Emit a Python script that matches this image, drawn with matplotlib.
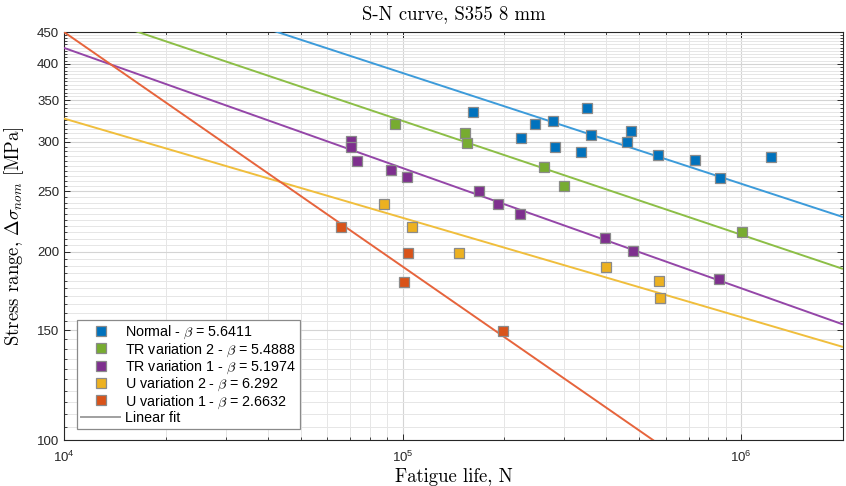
import numpy as np
import matplotlib
matplotlib.use('Agg')
import matplotlib.pyplot as plt
from matplotlib.font_manager import FontProperties
from matplotlib.ticker import FixedLocator, FixedFormatter, NullFormatter
from matplotlib.lines import Line2D

plt.rcParams['mathtext.fontset'] = 'custom'
plt.rcParams['mathtext.rm'] = 'Liberation Sans'
plt.rcParams['mathtext.it'] = 'Liberation Sans:italic'
plt.rcParams['font.family'] = ['Liberation Sans', 'DejaVu Sans']

# ---------------- data ----------------
series_names = ['Normal', 'TR variation 2', 'TR variation 1', 'U variation 2', 'U variation 1']
betas = [5.6411, 5.4888, 5.1974, 6.292, 2.6632]
beta_labels = ['5.6411', '5.4888', '5.1974', '6.292', '2.6632']
# fitted stress range at N = 1e4 for each linear fit (log-log)
fit_S_at_1e4 = [581.9, 493.3, 424.4, 327.1, 450.0]

normal_N = [1.62e5, 2.46e5, 2.78e5, 2.24e5, 2.82e5, 3.37e5, 3.51e5, 3.61e5,
            4.73e5, 4.60e5, 5.69e5, 7.31e5, 8.67e5, 1.226e6]
normal_S = [335, 320, 324, 305, 294, 289, 340, 308, 312, 300, 286, 281, 263, 284]

tr2_N = [9.5e4, 1.53e5, 1.55e5, 2.62e5, 3.0e5, 1.007e6]
tr2_S = [320, 310, 299, 274, 255, 215]

tr1_N = [7.04e4, 7.04e4, 7.34e4, 9.25e4, 1.03e5, 1.68e5, 1.915e5, 2.22e5,
         3.96e5, 4.80e5, 8.61e5]
tr1_S = [301, 294, 280, 271, 264, 250, 239, 230, 210.5, 200.6, 181]

u2_N = [8.82e4, 1.067e5, 1.469e5, 3.99e5, 5.72e5, 5.76e5]
u2_S = [239, 219, 199, 189, 180, 169]

u1_N = [6.58e4, 1.038e5, 1.01e5, 1.98e5]
u1_S = [219, 199, 179, 149.5]

x_ticks = [1e4, 1e5, 1e6]
x_ticklabels = [r'$10^4$', r'$10^5$', r'$10^6$']
y_ticks = [100, 150, 200, 250, 300, 350, 400, 450]

# ---------------- style ----------------
marker_colors = ['#0072BD', '#77AC30', '#7E2F8E', '#EDB120', '#D95319']
line_colors = ['#3C9BDA', '#8CBE46', '#9446A8', '#F0BE3C', '#E6643C']

series_N = [normal_N, tr2_N, tr1_N, u2_N, u1_N]
series_S = [normal_S, tr2_S, tr1_S, u2_S, u1_S]

fig = plt.figure(figsize=(8.46, 4.86), dpi=100)
ax = fig.add_axes([64/846, 46/486, 779/846, 408/486])
ax.set_xscale('log')
ax.set_yscale('log')
ax.set_xlim(1e4, 2e6)
ax.set_ylim(100, 450)

Nfit = np.logspace(4, np.log10(2e6), 200)
for i in range(5):
    Sfit = fit_S_at_1e4[i] * (Nfit / 1e4) ** (-1.0 / betas[i])
    ax.plot(Nfit, Sfit, color=line_colors[i], lw=1.4, zorder=3, solid_capstyle='butt')

for i in range(5):
    ax.plot(series_N[i], series_S[i], ls='none', marker='s', ms=7,
            mfc=marker_colors[i], mec='#8a8a8a', mew=0.9, zorder=4)

# ticks
ax.xaxis.set_major_locator(FixedLocator(x_ticks))
ax.xaxis.set_major_formatter(FixedFormatter(x_ticklabels))
xminor = [k * 10**d for d in range(4, 7) for k in range(2, 10) if k * 10**d <= 2e6]
ax.xaxis.set_minor_locator(FixedLocator(xminor))
ax.xaxis.set_minor_formatter(NullFormatter())
ax.yaxis.set_major_locator(FixedLocator(y_ticks))
ax.yaxis.set_major_formatter(FixedFormatter([str(v) for v in y_ticks]))
yminor = [v for v in range(105, 450, 5) if v % 50 != 0]
ax.yaxis.set_minor_locator(FixedLocator(yminor))
ax.yaxis.set_minor_formatter(NullFormatter())

ax.tick_params(which='both', direction='in', top=True, right=True,
               colors='#262626', labelsize=9.5)
ax.tick_params(which='major', length=4, width=0.7)
ax.tick_params(which='minor', length=2.5, width=0.6)
ax.tick_params(axis='x', pad=7)
for sp in ax.spines.values():
    sp.set_color('#262626')
    sp.set_linewidth(0.8)

ax.grid(which='major', color='#d4d4d4', lw=0.8, zorder=0)
ax.grid(which='minor', color='#e6e6e6', lw=0.7, zorder=0)
ax.set_axisbelow(True)

# labels
ax.set_title('S-N curve, S355 8 mm', fontfamily='cmr10', fontsize=13.5, pad=9)
ax.set_xlabel('Fatigue life, N', fontfamily='cmr10', fontsize=13.5, labelpad=2)
ax.set_ylabel(r'Stress range, $\Delta\sigma_{nom}$ [MPa]', fontfamily='cmr10',
              fontsize=13.5, math_fontfamily='cm', labelpad=8)

# legend
handles = []
labels = []
for i in range(5):
    handles.append(Line2D([], [], ls='none', marker='s', ms=7,
                          mfc=marker_colors[i], mec='#8a8a8a', mew=0.9))
    labels.append(series_names[i] + r' - $\beta$ = ' + beta_labels[i])
handles.append(Line2D([], [], color='#a0a0a0', lw=1.4))
labels.append('Linear fit')
leg = ax.legend(handles, labels, loc='lower left', bbox_to_anchor=(0.0167, 0.027),
                borderaxespad=0, fancybox=False, framealpha=1,
                prop=FontProperties(family='Liberation Sans', size=10.3, math_fontfamily='cm'),
                handlelength=2.7, handletextpad=0.35, labelspacing=0.0,
                borderpad=0.3)
leg.get_frame().set_edgecolor('#8a8a8a')
leg.get_frame().set_linewidth(0.9)
leg.set_zorder(5)

fig.savefig('out.png', dpi=100)
